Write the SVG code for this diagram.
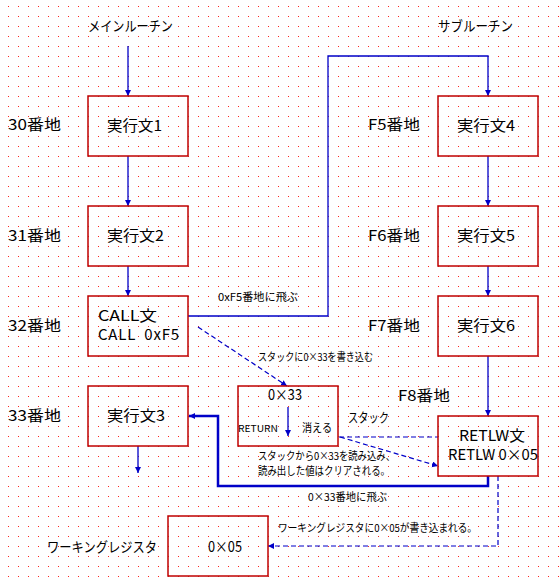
<svg xmlns="http://www.w3.org/2000/svg" width="559" height="585" viewBox="0 0 559 585">
<style>
.box{fill:none;stroke:#c00000;stroke-width:1.5}
.t{font-family:"Noto Sans CJK JP","Liberation Sans",sans-serif;fill:#000}
.f15{font-size:15px}
.f14{font-size:14px}
.f11{font-size:11px}
.ln{fill:none;stroke:#0000c8;stroke-width:1.3}
.thick{fill:none;stroke:#0000c8;stroke-width:2.5}
.dash{fill:none;stroke:#0000c8;stroke-width:1.2;stroke-dasharray:5,3}
</style>
<defs>
<pattern id="grid" x="8" y="6" width="10" height="10" patternUnits="userSpaceOnUse">
<rect x="0" y="0" width="1" height="1" fill="#ff2020"/>
</pattern>
<marker id="ar" markerWidth="8" markerHeight="8" refX="6" refY="3" orient="auto" markerUnits="userSpaceOnUse">
<path d="M0,0 L6,3 L0,6 z" fill="#0000c8"/>
</marker>
</defs>
<rect width="559" height="585" fill="#fff"/>
<rect width="559" height="585" fill="url(#grid)"/>

<g id="labels">
<text class="t f14" x="88" y="31" textLength="85" lengthAdjust="spacingAndGlyphs">メインルーチン</text>
<text class="t f14" x="438" y="31" textLength="75" lengthAdjust="spacingAndGlyphs">サブルーチン</text>
<text class="t f15" x="8" y="130" textLength="53" lengthAdjust="spacingAndGlyphs">30番地</text>
<text class="t f15" x="8" y="241" textLength="53" lengthAdjust="spacingAndGlyphs">31番地</text>
<text class="t f15" x="8" y="331" textLength="53" lengthAdjust="spacingAndGlyphs">32番地</text>
<text class="t f15" x="8" y="421" textLength="53" lengthAdjust="spacingAndGlyphs">33番地</text>
<text class="t f15" x="368" y="130" textLength="52" lengthAdjust="spacingAndGlyphs">F5番地</text>
<text class="t f15" x="368" y="241" textLength="52" lengthAdjust="spacingAndGlyphs">F6番地</text>
<text class="t f15" x="368" y="331" textLength="52" lengthAdjust="spacingAndGlyphs">F7番地</text>
<text class="t f15" x="398" y="401" textLength="52" lengthAdjust="spacingAndGlyphs">F8番地</text>
<text class="t" font-size="13" x="348" y="422" textLength="41" lengthAdjust="spacingAndGlyphs">スタック</text>
<text class="t f14" x="47" y="552" textLength="110" lengthAdjust="spacingAndGlyphs">ワーキングレジスタ</text>
<text class="t f11" x="218" y="301" textLength="80" lengthAdjust="spacingAndGlyphs">0xF5番地に飛ぶ</text>
<text class="t f11" x="258" y="361" textLength="115" lengthAdjust="spacingAndGlyphs">スタックに0×33を書き込む</text>
<text class="t f11" x="258" y="460" textLength="137" lengthAdjust="spacingAndGlyphs">スタックから0×33を読み込み、</text>
<text class="t f11" x="258" y="475" textLength="132" lengthAdjust="spacingAndGlyphs">読み出した値はクリアされる。</text>
<text class="t f11" x="308" y="501" textLength="79" lengthAdjust="spacingAndGlyphs">0×33番地に飛ぶ</text>
<text class="t f11" x="278" y="532" textLength="199" lengthAdjust="spacingAndGlyphs">ワーキングレジスタに0×05が書き込まれる。</text>
</g>

<g id="connectors">
<path class="ln" d="M128,46 V96" marker-end="url(#ar)"/>
<path class="ln" d="M128,156 V206" marker-end="url(#ar)"/>
<path class="ln" d="M128,266 V296" marker-end="url(#ar)"/>
<path class="ln" d="M138,446 V473" marker-end="url(#ar)"/>
<path class="ln" d="M188,316 H328 V56 H488 V96" marker-end="url(#ar)"/>
<path class="ln" d="M488,156 V206" marker-end="url(#ar)"/>
<path class="ln" d="M488,266 V296" marker-end="url(#ar)"/>
<path class="ln" d="M488,356 V416" marker-end="url(#ar)"/>
<path class="ln" d="M288,407 V436" marker-end="url(#ar)"/>
<path class="thick" d="M488,476 V486 H218 V416 H189" marker-end="url(#ar)"/>
<path class="dash" d="M198,327 L287,386" marker-end="url(#ar)"/>
<path class="dash" d="M339,437 H438"/>
<path class="dash" d="M340,437 L438,466" marker-end="url(#ar)"/>
<path class="dash" d="M498,476 V546 H268" marker-end="url(#ar)"/>
</g>

<g id="n_exec1"><rect class="box" x="88" y="96" width="100" height="60"/><text class="t f15" x="107" y="131" textLength="55" lengthAdjust="spacingAndGlyphs">実行文1</text></g>
<g id="n_exec2"><rect class="box" x="88" y="206" width="100" height="60"/><text class="t f15" x="107" y="241" textLength="57" lengthAdjust="spacingAndGlyphs">実行文2</text></g>
<g id="n_call"><rect class="box" x="88" y="296" width="100" height="60"/><text class="t f15" x="98" y="321" textLength="59" lengthAdjust="spacingAndGlyphs">CALL文</text><text class="t f15" x="98" y="340" textLength="81" lengthAdjust="spacing" xml:space="preserve">CALL  0xF5</text></g>
<g id="n_exec3"><rect class="box" x="88" y="386" width="100" height="60"/><text class="t f15" x="107" y="421" textLength="58" lengthAdjust="spacingAndGlyphs">実行文3</text></g>
<g id="n_exec4"><rect class="box" x="438" y="96" width="100" height="60"/><text class="t f15" x="457" y="131" textLength="58" lengthAdjust="spacingAndGlyphs">実行文4</text></g>
<g id="n_exec5"><rect class="box" x="438" y="206" width="100" height="60"/><text class="t f15" x="457" y="241" textLength="58" lengthAdjust="spacingAndGlyphs">実行文5</text></g>
<g id="n_exec6"><rect class="box" x="438" y="296" width="100" height="60"/><text class="t f15" x="457" y="331" textLength="58" lengthAdjust="spacingAndGlyphs">実行文6</text></g>
<g id="n_retlw"><rect class="box" x="438" y="416" width="100" height="60"/><text class="t f15" x="459" y="441" textLength="66" lengthAdjust="spacingAndGlyphs">RETLW文</text><text class="t f15" x="448" y="460" textLength="90" lengthAdjust="spacingAndGlyphs">RETLW 0×05</text></g>
<g id="n_stack"><rect class="box" x="238" y="386" width="100" height="60"/><text class="t f15" x="268" y="400" textLength="34" lengthAdjust="spacingAndGlyphs">0×33</text><text class="t" font-size="9" x="238" y="432" textLength="40" lengthAdjust="spacingAndGlyphs">RETURN</text><text class="t f11" x="302" y="432" textLength="30" lengthAdjust="spacingAndGlyphs">消える</text></g>
<g id="n_wreg"><rect class="box" x="168" y="516" width="100" height="60"/><text class="t f15" x="208" y="552" textLength="34" lengthAdjust="spacingAndGlyphs">0×05</text></g>
</svg>
